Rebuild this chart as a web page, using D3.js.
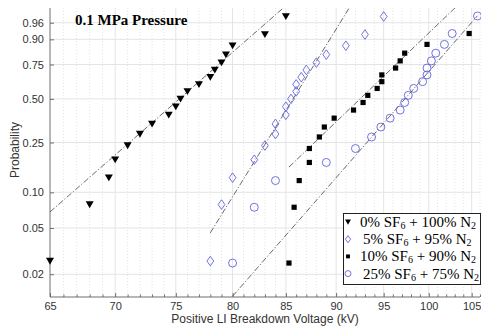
<!DOCTYPE html>
<html>
<head>
<meta charset="utf-8">
<script src="https://cdn.jsdelivr.net/npm/d3@7"></script>
<style>
  body { margin: 0; background: #fff; }
  svg { display: block; }
</style>
</head>
<body>
<script>
    // Data (breakdown voltages in kV, plotting probabilities)
    let xTicks = [65, 70, 75, 80, 85, 90, 95, 100, 105];
    let probTicks = [0.02, 0.05, 0.10, 0.25, 0.50, 0.75, 0.90, 0.96];

    let sf0 = [65, 68, 69.5, 70, 71, 72, 73, 74.4, 75, 75.4, 76, 77, 78, 78.4, 79, 79.4, 80, 83, 85];
    let sf0Prob = [0.026, 0.079, 0.132, 0.184, 0.237, 0.289, 0.342, 0.395, 0.447, 0.5, 0.553, 0.605, 0.658, 0.711, 0.763, 0.816, 0.868, 0.921, 0.974];

    let sf5 = [78, 79, 80, 82, 83, 84, 84, 85, 85, 85.5, 86, 86, 86.5, 87, 88, 89, 91, 93, 95];
    let sf5Prob = [0.026, 0.079, 0.132, 0.184, 0.237, 0.289, 0.342, 0.395, 0.447, 0.5, 0.553, 0.605, 0.658, 0.711, 0.763, 0.816, 0.868, 0.921, 0.974];

    let sf10 = [85.3, 85.8, 86.3, 87.3, 87.3, 88.3, 88.8, 89.8, 91.8, 92.8, 93.3, 94.3, 94.8, 94.8, 96.3, 96.8, 97.3, 99.8, 104.7];
    let sf10Prob = [0.025, 0.075, 0.125, 0.175, 0.225, 0.275, 0.325, 0.375, 0.425, 0.475, 0.525, 0.575, 0.625, 0.675, 0.725, 0.775, 0.825, 0.875, 0.925];

    let sf25 = [80, 82, 84, 89, 92, 93.7, 94.7, 95.7, 96.8, 97.3, 97.7, 98.3, 99.3, 99.8, 99.8, 100.3, 100.8, 101.8, 102.7, 105.7];
    let sf25Prob = [0.025, 0.075, 0.125, 0.175, 0.225, 0.275, 0.325, 0.375, 0.425, 0.475, 0.525, 0.575, 0.625, 0.675, 0.725, 0.775, 0.825, 0.875, 0.925, 0.975];

    // Weibull fit parameters: [scale, shape]
    let fitScale = [77.1, 86.8, 94.5, 99.1];
    let fitShape = [15.5, 28.7, 17.0, 20.3];

    let labels = ["0%", "5%", "10%", "25%"];
    let labelsN2 = ["100%", "95%", "90%", "75%"];

    let blue = "#6262dc";
    let series = [
        { x: sf0, p: sf0Prob, shape: "tri", fill: "#000", stroke: "none" },
        { x: sf5, p: sf5Prob, shape: "diamond", fill: "none", stroke: blue },
        { x: sf10, p: sf10Prob, shape: "square", fill: "#000", stroke: "none" },
        { x: sf25, p: sf25Prob, shape: "circle", fill: "none", stroke: blue }
    ];

    // Weibull probability transform
    let wb = (p) => Math.log(-Math.log(1 - p));

    let width = 481, height = 332;
    let pLeft = 50, pRight = 480, pTop = 8, pBottom = 297;

    let svg = d3.select("body").append("svg")
        .attr("width", width)
        .attr("height", height);

    let x = d3.scaleLog().domain([65, 106]).range([pLeft, pRight]);
    let y = d3.scaleLinear().domain([-4.361, 1.466]).range([pBottom, pTop]);

    svg.append("clipPath").attr("id", "clip")
        .append("rect")
        .attr("x", pLeft).attr("y", pTop)
        .attr("width", pRight - pLeft).attr("height", pBottom - pTop);

    // Grid
    let minor = d3.range(66, 107).filter((v) => v % 5 !== 0);
    svg.append("g").selectAll("line")
        .data(minor)
        .enter().append("line")
        .attr("x1", (d) => x(d)).attr("x2", (d) => x(d))
        .attr("y1", pTop).attr("y2", pBottom)
        .attr("stroke", "#dcdcdc")
        .attr("stroke-width", 0.8)
        .attr("stroke-dasharray", "1,2");

    svg.append("g").selectAll("line")
        .data(xTicks.slice(1))
        .enter().append("line")
        .attr("x1", (d) => x(d)).attr("x2", (d) => x(d))
        .attr("y1", pTop).attr("y2", pBottom)
        .attr("stroke", "#e4e4e4");

    svg.append("g").selectAll("line")
        .data(probTicks)
        .enter().append("line")
        .attr("x1", pLeft).attr("x2", pRight)
        .attr("y1", (d) => y(wb(d))).attr("y2", (d) => y(wb(d)))
        .attr("stroke", "#e4e4e4");

    // Axes
    let axisColor = "#6e6e6e";
    let xAxis = svg.append("g")
        .attr("transform", `translate(0,${pBottom})`)
        .call(d3.axisBottom(x).tickValues(xTicks).tickSize(-4).tickPadding(5).tickFormat(d3.format("d")));
    let xMinor = svg.append("g")
        .attr("transform", `translate(0,${pBottom})`)
        .call(d3.axisBottom(x).tickValues(minor).tickSize(-2.5).tickFormat(""));
    xMinor.select(".domain").remove();

    let yAxis = svg.append("g")
        .attr("transform", `translate(${pLeft},0)`)
        .call(d3.axisLeft(y).tickValues(probTicks.map(wb)).tickSize(-4).tickPadding(6)
            .tickFormat((d, i) => probTicks[i].toFixed(2)));

    [xAxis, xMinor, yAxis].forEach((g) => {
        g.selectAll("path, line").attr("stroke", axisColor);
        g.selectAll("text")
            .attr("fill", "#333")
            .style("font-family", "'Liberation Sans', Arial, sans-serif")
            .style("font-size", "11px");
    });
    xAxis.select(".domain").attr("d", `M${pLeft},0H${pRight}`);
    yAxis.select(".domain").attr("d", `M0,${pTop}V${pBottom}`);

    // Axis labels
    svg.append("text")
        .attr("x", 265).attr("y", 323)
        .attr("text-anchor", "middle")
        .attr("fill", "#333")
        .style("font-family", "'Liberation Sans', Arial, sans-serif")
        .style("font-size", "12px")
        .text("Positive LI Breakdown Voltage (kV)");

    svg.append("text")
        .attr("transform", "translate(19,150) rotate(-90)")
        .attr("text-anchor", "middle")
        .attr("fill", "#333")
        .style("font-family", "'Liberation Sans', Arial, sans-serif")
        .style("font-size", "12px")
        .text("Probability");

    // Title
    svg.append("text")
        .attr("x", 75).attr("y", 25)
        .style("font-family", "'Liberation Serif', 'Times New Roman', serif")
        .style("font-weight", "bold")
        .style("font-size", "15px")
        .text("0.1 MPa Pressure");

    // Fit lines
    let plot = svg.append("g").attr("clip-path", "url(#clip)");
    series.forEach((s, i) => {
        let ends = d3.extent(s.x);
        let line = d3.line()
            .x((d) => x(d))
            .y((d) => y(fitShape[i] * Math.log(d / fitScale[i])));
        plot.append("path")
            .attr("d", line(ends))
            .attr("fill", "none")
            .attr("stroke", "#444")
            .attr("stroke-width", 0.8)
            .attr("stroke-dasharray", "6,2,1.2,2");
    });

    // Markers
    function marker(shape, s) {
        if (shape === "tri") return `M${-s},${-s * 0.8}L${s},${-s * 0.8}L0,${s * 0.9}Z`;
        if (shape === "diamond") return `M0,${-s * 1.2}L${s * 0.85},0L0,${s * 1.2}L${-s * 0.85},0Z`;
        if (shape === "square") return `M${-s * 0.65},${-s * 0.65}h${s * 1.3}v${s * 1.3}h${-s * 1.3}Z`;
        return d3.arc()({ innerRadius: 0, outerRadius: s, startAngle: 0, endAngle: 2 * Math.PI });
    }

    series.forEach((s) => {
        svg.append("g").selectAll("path")
            .data(s.x.map((v, j) => [v, s.p[j]]).filter((d) => d[0] <= 106))
            .enter().append("path")
            .attr("transform", (d) => `translate(${x(d[0])},${y(wb(d[1]))})`)
            .attr("d", marker(s.shape, 4))
            .attr("fill", s.fill)
            .attr("stroke", s.stroke)
            .attr("stroke-width", 0.9);
    });

    // Legend
    let lg = svg.append("g");
    lg.append("rect")
        .attr("x", 343.5).attr("y", 213.5)
        .attr("width", 137).attr("height", 71)
        .attr("fill", "#fff")
        .attr("stroke", "#222")
        .attr("stroke-width", 1);

    series.forEach((s, i) => {
        let yy = 222 + i * 17.2;
        lg.append("path")
            .attr("transform", `translate(348,${yy})`)
            .attr("d", marker(s.shape, 3))
            .attr("fill", s.fill)
            .attr("stroke", s.stroke)
            .attr("stroke-width", 0.9);
        let t = lg.append("text")
            .attr("x", i % 2 === 0 ? 360 : 363).attr("y", yy + 5)
            .style("font-family", "'Liberation Serif', 'Times New Roman', serif")
            .style("font-size", "15px");
        t.append("tspan").text(labels[i] + " SF");
        t.append("tspan").attr("dy", 2).style("font-size", "10px").text("6");
        t.append("tspan").attr("dy", -2).text(" + " + labelsN2[i] + " N");
        t.append("tspan").attr("dy", 2).style("font-size", "10px").text("2");
    });
</script>
</body>
</html>
